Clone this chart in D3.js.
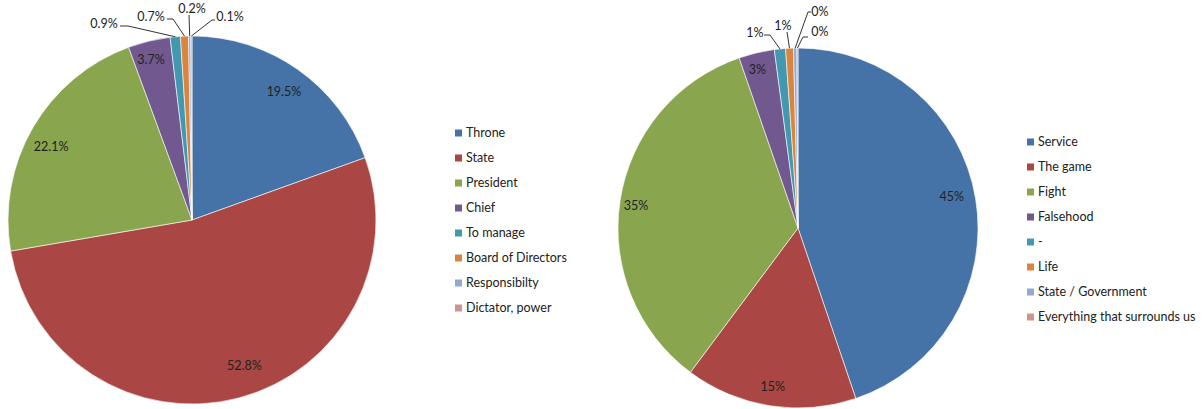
<!DOCTYPE html>
<html>
<head>
<meta charset="utf-8">
<script src="https://cdn.jsdelivr.net/npm/d3@7"></script>
<style>
  body { margin: 0; background: #fff; }
  text { font-family: Lato, "Open Sans", sans-serif; fill: #222; }
</style>
</head>
<body>
<svg id="chart" width="1203" height="409"></svg>
<script>
// left pie
var leftCategories = ['Throne', 'State', 'President', 'Chief', 'To manage', 'Board of Directors', 'Responsibilty', 'Dictator, power'];
var leftValues = [19.5, 52.8, 22.1, 3.7, 0.9, 0.7, 0.2, 0.1];

// right pie (labels shown rounded)
var rightCategories = ['Service', 'The game', 'Fight', 'Falsehood', '-', 'Life', 'State / Government', 'Everything that surrounds us'];
var rightValues = [44.8, 15.4, 34.5, 3.2, 1.0, 0.7, 0.3, 0.1];

var colors = ['#4572a7', '#aa4643', '#89a54e', '#71588f', '#4198af', '#db843d', '#93a9cf', '#d19392'];

var svg = d3.select('#chart');
svg.append('rect').attr('width', 1203).attr('height', 409).attr('fill', '#fff');

// label layout: small nudges for inside labels (best fit), and
// outside labels: label offset from pie center, elbow point, line end
var leftNudge = [[1, 1], [12, -7], [-4, 6], [-4, -7]];
var rightNudge = [[1, -6], [-1, 6], [-9, 1], [-5, -8]];
var leftOutside = {
  4: {lx: -88, ly: -196, ex: -64, ey: -194, ax: -72},
  5: {lx: -41, ly: -203, ex: -19, ey: -201, ax: -25},
  6: {lx: 0,   ly: -211, ex: -3,  ey: -205, ax: -3},
  7: {lx: 38,  ly: -203, ex: 20,  ey: -200, ax: 23}
};
var rightOutside = {
  4: {lx: -43, ly: -195, ex: -28, ey: -193, ax: -34},
  5: {lx: -15, ly: -202, ex: -11, ey: -196, ax: -11},
  6: {lx: 22,  ly: -216, ex: 10,  ey: -216, ax: 13},
  7: {lx: 22,  ly: -196, ex: 5,   ey: -191, ax: 10}
};

function drawPie(cx, cy, r, cats, vals, fmt, nudge, outside, legendX, legendY) {
  var g = svg.append('g').attr('transform', `translate(${cx}, ${cy})`);

  var pie = d3.pie().sort(null).value(d => d);
  var arcs = pie(vals);
  var total = d3.sum(vals);

  var arc = d3.arc().innerRadius(0).outerRadius(r);
  var labelArc = d3.arc().innerRadius(r * 0.86).outerRadius(r * 0.86);
  var edgeArc = d3.arc().innerRadius(r).outerRadius(r);

  g.selectAll('path.slice')
    .data(arcs)
    .enter().append('path')
      .attr('class', 'slice')
      .attr('d', arc)
      .attr('fill', (d, i) => colors[i])
      .attr('stroke', '#fff')
      .attr('stroke-width', 0.6);

  arcs.forEach(function(d, i) {
    var o = outside[i];
    if (!o) {
      // inside label
      var c = labelArc.centroid(d);
      g.append('text')
        .attr('x', c[0] + nudge[i][0])
        .attr('y', c[1] + nudge[i][1])
        .attr('text-anchor', 'middle')
        .attr('dy', '0.35em')
        .style('font-size', '12.5px')
        .text(fmt(d.data / total));
      return;
    }
    // outside label with leader line
    var p = edgeArc.centroid(d);
    g.append('polyline')
      .attr('points', [[p[0], p[1]], [o.ex, o.ey], [o.ax, o.ey]].map(q => q.join(',')).join(' '))
      .attr('fill', 'none')
      .attr('stroke', '#333')
      .attr('stroke-width', 1);
    g.append('text')
      .attr('x', o.lx)
      .attr('y', o.ly)
      .attr('text-anchor', 'middle')
      .attr('dy', '0.35em')
      .style('font-size', '12.5px')
      .text(fmt(d.data / total));
  });

  // legend
  var leg = svg.append('g').attr('transform', `translate(${legendX}, ${legendY})`);
  var y = d3.scalePoint().domain(cats).range([0, 25 * (cats.length - 1)]);
  var item = leg.selectAll('g')
    .data(cats)
    .enter().append('g')
      .attr('transform', d => `translate(0, ${y(d)})`);
  item.append('rect')
    .attr('x', 0).attr('y', -3.5)
    .attr('width', 7).attr('height', 7)
    .attr('fill', (d, i) => colors[i]);
  item.append('text')
    .attr('x', 11)
    .attr('dy', '0.35em')
    .style('font-size', '12.5px')
    .text(d => d);
}

drawPie(192, 220, 184, leftCategories, leftValues, d3.format('.1%'), leftNudge, leftOutside, 455, 133);
drawPie(798, 228, 180, rightCategories, rightValues, d3.format('.0%'), rightNudge, rightOutside, 1027, 142);
</script>
</body>
</html>
